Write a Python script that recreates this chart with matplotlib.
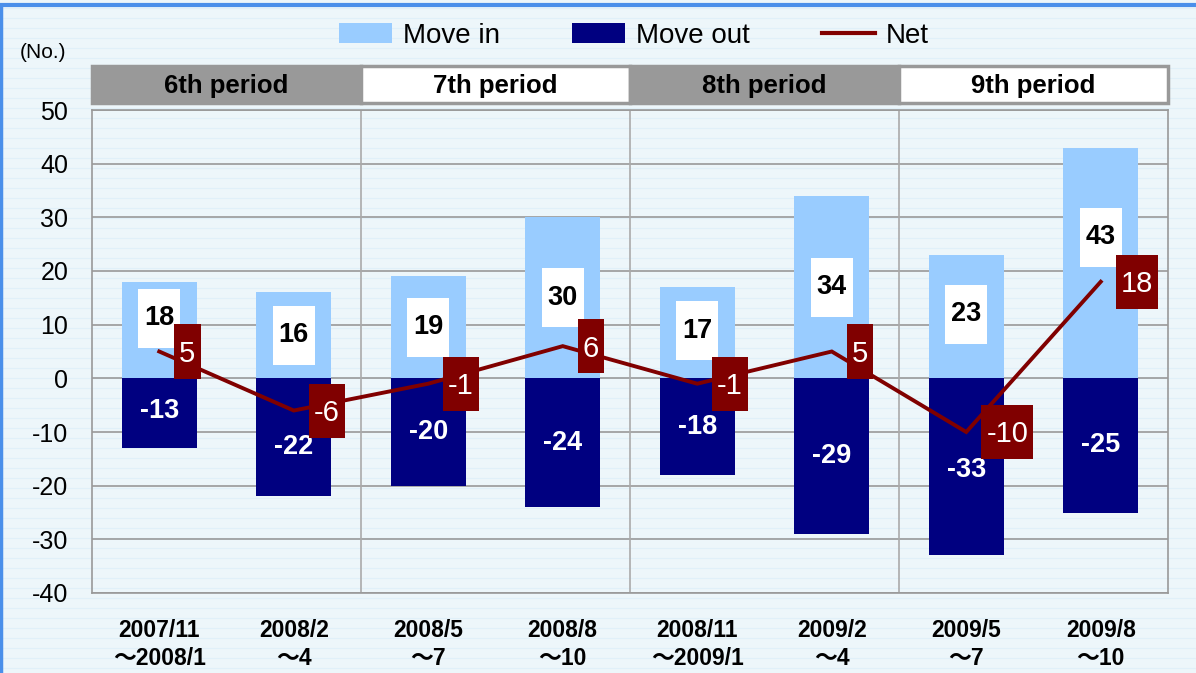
import matplotlib
matplotlib.use('Agg')
import matplotlib.pyplot as plt
from matplotlib.patches import Rectangle, Patch
from matplotlib.lines import Line2D

plt.rcParams['font.family'] = ['Liberation Sans', 'DejaVu Sans', 'Noto Sans CJK JP']

# ---- data ----
start_labels = ['2007/11', '2008/2', '2008/5', '2008/8', '2008/11', '2009/2', '2009/5', '2009/8']
end_labels = ['～2008/1', '～4', '～7', '～10', '～2009/1', '～4', '～7', '～10']
move_in = [18, 16, 19, 30, 17, 34, 23, 43]
move_out = [-13, -22, -20, -24, -18, -29, -33, -25]
net = [5, -6, -1, 6, -1, 5, -10, 18]
period_names = ['6th period', '7th period', '8th period', '9th period']
y_ticks = [50, 40, 30, 20, 10, 0, -10, -20, -30, -40]

# label nudges (data units) where the original moved labels off bar centre
in_label_shift = [2.2, 0, 0, 0, 0.4, 0, 0.4, 4.8]
out_label_shift = [0.4, -1.8, 0, 0, 0, 0, -0.6, 0]

C_IN = '#99CCFF'
C_OUT = '#000080'
C_NET = '#800000'
C_GRID = '#999999'
BG = '#EDF6FA'

W, H = 1196, 673
fig = plt.figure(figsize=(W / 100, H / 100), dpi=100, facecolor=BG)

# faint background stripes
for yy in range(8, H, 10):
    fig.add_artist(Line2D([0, 1], [1 - yy / H, 1 - yy / H], color='#E0F0F9', lw=0.8, zorder=-5))
# blue frame top/left
fig.add_artist(Line2D([0, 1], [1 - 5 / H, 1 - 5 / H], color='#4A8FEA', lw=3, zorder=10))
fig.add_artist(Line2D([1 / W, 1 / W], [0, 1 - 5 / H], color='#4A8FEA', lw=2.5, zorder=10))

L, R = 92 / W, 1168 / W
ax = fig.add_axes([L, 1 - 593 / H, R - L, (593 - 110) / H])
ax.patch.set_alpha(0)
n = len(move_in)
x = list(range(n))
ax.set_xlim(-0.5, n - 0.5)
ax.set_ylim(-40, 50)
ax.set_yticks(y_ticks)
ax.set_yticklabels([str(v) for v in y_ticks], fontsize=18)
ax.tick_params(axis='y', length=0, pad=17)
ax.set_xticks(x)
ax.set_xticklabels([f'{a}\n{b}' for a, b in zip(start_labels, end_labels)],
                   fontsize=16.5, fontweight='bold', linespacing=1.25)
ax.tick_params(axis='x', length=0, pad=19)
for s in ax.spines.values():
    s.set_color(C_GRID)
    s.set_linewidth(1.2)
for v in y_ticks:
    ax.axhline(v, color=C_GRID, lw=1.2, zorder=1)
for b in [1.5, 3.5, 5.5]:
    ax.axvline(b, color='#AAAAAA', lw=1.2, zorder=1)

bw = 0.56
ax.bar(x, move_in, width=bw, color=C_IN, zorder=2)
ax.bar(x, move_out, width=bw, color=C_OUT, zorder=2)
ax.plot(x, net, color=C_NET, lw=2.8, zorder=3, solid_joinstyle='miter')

# texts
in_texts = []
for i, v in enumerate(move_in):
    t = ax.text(i, v / 2 + in_label_shift[i], str(v), ha='center', va='center',
                fontsize=19.5, fontweight='bold', color='black', zorder=6)
    in_texts.append(t)
for i, v in enumerate(move_out):
    ax.text(i, v / 2 + out_label_shift[i], str(v), ha='center', va='center',
            fontsize=19.5, fontweight='bold', color='white', zorder=6)
net_texts = []
for i, v in enumerate(net):
    t = ax.text(i, v, str(v), ha='center', va='baseline', fontsize=21,
                color='white', zorder=8)
    net_texts.append(t)

fig.canvas.draw()
r = fig.canvas.get_renderer()
inv = ax.transData.inverted()


def add_px_box(x0, y0, x1, y1, color, z):
    (dx0, dy0) = inv.transform((x0, y0))
    (dx1, dy1) = inv.transform((x1, y1))
    ax.add_patch(Rectangle((dx0, dy0), dx1 - dx0, dy1 - dy0, facecolor=color,
                           edgecolor='none', zorder=z, clip_on=False))


for t in in_texts:
    bb = t.get_window_extent(r)
    cx, cy = (bb.x0 + bb.x1) / 2, (bb.y0 + bb.y1) / 2
    w = bb.width + 12
    add_px_box(cx - w / 2, cy - 29.5, cx + w / 2, cy + 29.5, 'white', 5)

cap = 21 * 100 / 72 * 0.716
for i, t in enumerate(net_texts):
    bb = t.get_window_extent(r)
    px, py = ax.transData.transform((i, net[i]))
    left = px + 15
    w = bb.width + 10
    add_px_box(left, py - 27, left + w, py + 27, C_NET, 7)
    tx, ty = inv.transform((left + w / 2, py - cap / 2))
    t.set_position((tx, ty))

# period header
axh = fig.add_axes([L, 1 - 103 / H, R - L, (103 - 66) / H])
axh.set_xlim(-0.5, n - 0.5)
axh.set_ylim(0, 1)
axh.axis('off')
for k, name in enumerate(period_names):
    fc = '#999999' if k % 2 == 0 else 'white'
    axh.add_patch(Rectangle((-0.5 + 2 * k, 0), 2, 1, facecolor=fc, edgecolor='#999999',
                            lw=2.5, clip_on=False))
    axh.text(0.5 + 2 * k, 0.46, name, ha='center', va='center', fontsize=18.5,
             fontweight='bold', color='black')

fig.text(43 / W, 1 - 52 / H, '(No.)', ha='center', va='center', fontsize=15)

handles = [Patch(facecolor=C_IN), Patch(facecolor=C_OUT), Line2D([], [], color=C_NET, lw=3)]
fig.legend(handles, ['Move in', 'Move out', 'Net'], loc='center', ncol=3,
           bbox_to_anchor=(634 / W, 1 - 36 / H), frameon=False, fontsize=20,
           handlelength=1.9, handleheight=0.75, handletextpad=0.4, columnspacing=2.6,
           borderpad=0)

fig.savefig('out.png', dpi=100, facecolor=BG)
